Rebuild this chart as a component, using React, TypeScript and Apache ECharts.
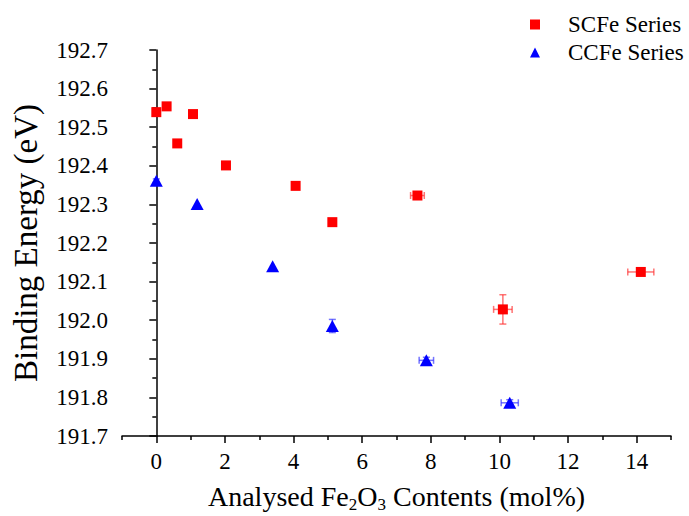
import React, { useEffect, useRef } from "react";
import * as echarts from "echarts";

const scfeX = [0, 0.3, 0.61, 1.07, 2.03, 4.06, 5.13, 7.61, 10.1, 14.12];
const scfeY = [192.539, 192.554, 192.458, 192.534, 192.401, 192.348, 192.254, 192.323, 192.028, 192.125];
const scfeXErr = [0, 0, 0, 0, 0, 0, 0, 0.2, 0.27, 0.38];
const scfeYErr = [0, 0, 0, 0, 0, 0, 0, 0, 0.038, 0];

const ccfeX = [0, 1.19, 3.39, 5.13, 7.87, 10.3];
const ccfeY = [192.361, 192.301, 192.14, 191.985, 191.896, 191.786];
const ccfeXErr = [0, 0, 0, 0, 0.21, 0.25];
const ccfeYErr = [0.005, 0, 0, 0.017, 0.008, 0.008];

const xMajorTicks = [0, 2, 4, 6, 8, 10, 12, 14];
const xMinorTicks = [-1, 1, 3, 5, 7, 9, 11, 13, 15];

const FONT = "Liberation Serif";

function errRender(color: string) {
  return (params: any, api: any) => {
    const x = api.value(0);
    const y = api.value(1);
    const xe = api.value(2);
    const ye = api.value(3);
    const c = api.coord([x, y]);
    const children: any[] = [];
    const style = { stroke: color, lineWidth: 1.5, opacity: 0.65 };
    const cap = 3.5;
    if (xe > 0) {
      const l = api.coord([x - xe, y]);
      const r = api.coord([x + xe, y]);
      children.push({ type: "line", shape: { x1: l[0], y1: c[1], x2: r[0], y2: c[1] }, style });
      children.push({ type: "line", shape: { x1: l[0], y1: c[1] - cap, x2: l[0], y2: c[1] + cap }, style });
      children.push({ type: "line", shape: { x1: r[0], y1: c[1] - cap, x2: r[0], y2: c[1] + cap }, style });
    }
    if (ye > 0) {
      const t = api.coord([x, y + ye]);
      const b = api.coord([x, y - ye]);
      children.push({ type: "line", shape: { x1: c[0], y1: t[1], x2: c[0], y2: b[1] }, style });
      children.push({ type: "line", shape: { x1: c[0] - cap, y1: t[1], x2: c[0] + cap, y2: t[1] }, style });
      children.push({ type: "line", shape: { x1: c[0] - cap, y1: b[1], x2: c[0] + cap, y2: b[1] }, style });
    }
    return { type: "group", children };
  };
}

export default function App() {
  const ref = useRef<HTMLDivElement>(null);
  useEffect(() => {
    if (!ref.current) return;
    const chart = echarts.init(ref.current, null, { renderer: "svg" });
    const scfe = scfeX.map((x, i) => [x, scfeY[i], scfeXErr[i], scfeYErr[i]]);
    const ccfe = ccfeX.map((x, i) => [x, ccfeY[i], ccfeXErr[i], ccfeYErr[i]]);
    const axisLineStyle = { color: "#000", width: 1.5 };
    chart.setOption({
      animation: false,
      backgroundColor: "#fff",
      textStyle: { fontFamily: FONT },
      grid: { left: 122, right: 18, top: 50, bottom: 80, containLabel: false, outerBoundsMode: "none" },
      legend: {
        orient: "vertical",
        left: 525,
        top: 8,
        itemWidth: 10,
        itemHeight: 10,
        itemGap: 5,
        textStyle: { fontFamily: FONT, fontSize: 23, color: "#000", padding: [0, 0, 0, 23] },
        data: [
          { name: "SCFe Series", icon: "rect" },
          { name: "CCFe Series", icon: "triangle" },
        ],
      },
      xAxis: [
        {
          type: "value",
          min: -1,
          max: 15,
          position: "bottom",
          splitLine: { show: false },
          axisLine: { show: true, lineStyle: axisLineStyle },
          axisTick: { show: true, length: 7, lineStyle: axisLineStyle, customValues: xMajorTicks },
          axisLabel: {
            customValues: xMajorTicks,
            fontFamily: FONT,
            fontSize: 23,
            color: "#000",
            margin: 14,
          },
          name: "Analysed Fe{sub|2}O{sub|3} Contents (mol%)",
          nameLocation: "middle",
          nameGap: 44,
          nameTextStyle: {
            fontFamily: FONT,
            fontSize: 28,
            color: "#000",
            lineHeight: 33,
            rich: {
              sub: { fontFamily: FONT, fontSize: 17, lineHeight: 17, verticalAlign: "bottom", color: "#000" },
            },
          },
        },
        {
          type: "value",
          min: -1,
          max: 15,
          position: "bottom",
          splitLine: { show: false },
          axisLine: { show: false },
          axisTick: { show: true, length: 4, lineStyle: axisLineStyle, customValues: xMinorTicks },
          axisLabel: { show: false },
        },
      ],
      yAxis: {
        type: "value",
        min: 191.7,
        max: 192.7,
        interval: 0.1,
        splitLine: { show: false },
        axisLine: { show: true, lineStyle: axisLineStyle },
        axisTick: { show: true, length: 7, lineStyle: axisLineStyle },
        minorTick: { show: true, splitNumber: 2, length: 4, lineStyle: axisLineStyle },
        axisLabel: {
          fontFamily: FONT,
          fontSize: 23,
          color: "#000",
          margin: 14,
          formatter: (v: number) => v.toFixed(1),
        },
        name: "Binding Energy (eV)",
        nameLocation: "middle",
        nameRotate: 90,
        nameGap: 80,
        nameTextStyle: { fontFamily: FONT, fontSize: 33, color: "#000" },
      },
      series: [
        {
          type: "custom",
          name: "scfeErr",
          renderItem: errRender("#ff2a2a"),
          data: scfe,
          encode: { x: 0, y: 1 },
          z: 1,
          silent: true,
        },
        {
          type: "custom",
          name: "ccfeErr",
          renderItem: errRender("#2a2aff"),
          data: ccfe,
          encode: { x: 0, y: 1 },
          z: 1,
          silent: true,
        },
        {
          type: "scatter",
          name: "SCFe Series",
          symbol: "rect",
          symbolSize: 10,
          itemStyle: { color: "#ff0000", opacity: 1 },
          data: scfe.map((d) => [d[0], d[1]]),
          z: 3,
        },
        {
          type: "scatter",
          name: "CCFe Series",
          symbol: "triangle",
          symbolSize: [13, 12],
          itemStyle: { color: "#0000ff", opacity: 1 },
          data: ccfe.map((d) => [d[0], d[1]]),
          z: 3,
        },
      ],
    });
    return () => chart.dispose();
  }, []);
  return (
    <div
      ref={ref}
      style={{ position: "absolute", left: 0, top: 0, width: 689, height: 516 }}
    />
  );
}
